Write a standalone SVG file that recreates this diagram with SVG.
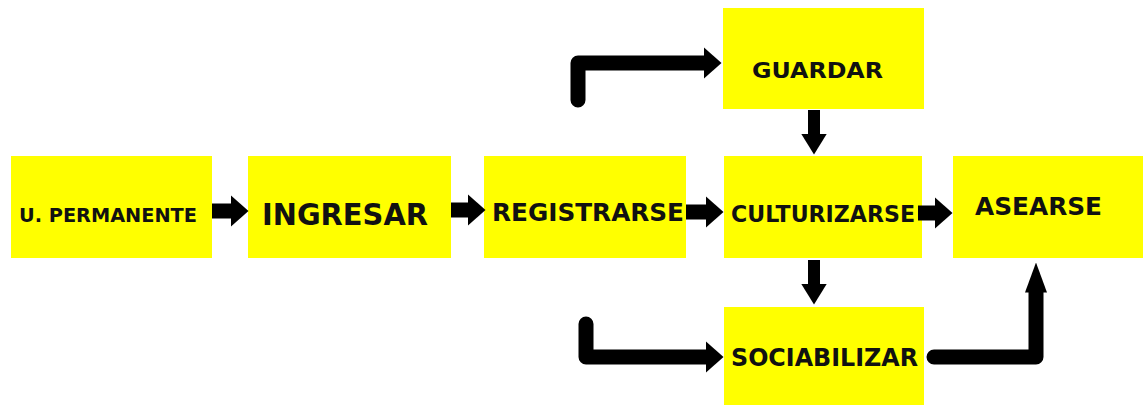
<svg xmlns="http://www.w3.org/2000/svg" width="1143" height="405" viewBox="0 0 1143 405">
  <defs>
    <style>
      .box { fill: #ffff00; }
      .lbl { font-family: "DejaVu Sans", "Liberation Sans", sans-serif; font-weight: bold; fill: #111111; }
      .con { fill: none; stroke: #000; stroke-width: 15; stroke-linejoin: round; }
      .thin { stroke-width: 12; }
    </style>
    <marker id="head" viewBox="0 0 18 32" markerUnits="userSpaceOnUse" markerWidth="18" markerHeight="32" refX="0.5" refY="16" orient="auto">
      <path d="M0,0 L18,16 L0,32 z" fill="#000"/>
    </marker>
    <marker id="headv" viewBox="0 0 21 26" markerUnits="userSpaceOnUse" markerWidth="21" markerHeight="26" refX="0.5" refY="13" orient="auto">
      <path d="M0,0 L21,13 L0,26 z" fill="#000"/>
    </marker>
    <marker id="headu" viewBox="0 0 30 22" markerUnits="userSpaceOnUse" markerWidth="30" markerHeight="22" refX="0.5" refY="11" orient="auto">
      <path d="M0,0 L30,11 L0,22 z" fill="#000"/>
    </marker>
  </defs>
  <rect width="1143" height="405" fill="#ffffff"/>

  <g id="n-permanente">
    <rect class="box" x="11" y="156" width="201" height="102"/>
    <text class="lbl" x="19" y="222" font-size="19" textLength="178" lengthAdjust="spacingAndGlyphs">U. PERMANENTE</text>
  </g>
  <g id="n-ingresar">
    <rect class="box" x="248" y="156" width="203" height="102"/>
    <text class="lbl" x="262" y="225" font-size="31" textLength="166" lengthAdjust="spacingAndGlyphs">INGRESAR</text>
  </g>
  <g id="n-registrarse">
    <rect class="box" x="484" y="156" width="202" height="102"/>
    <text class="lbl" x="492" y="221" font-size="25" textLength="192" lengthAdjust="spacingAndGlyphs">REGISTRARSE</text>
  </g>
  <g id="n-culturizarse">
    <rect class="box" x="724" y="156" width="198" height="102"/>
    <text class="lbl" x="731" y="222" font-size="23" textLength="184" lengthAdjust="spacingAndGlyphs">CULTURIZARSE</text>
  </g>
  <g id="n-asearse">
    <rect class="box" x="953" y="156" width="190" height="102"/>
    <text class="lbl" x="975" y="215" font-size="24" textLength="127" lengthAdjust="spacingAndGlyphs">ASEARSE</text>
  </g>
  <g id="n-guardar">
    <rect class="box" x="723" y="8" width="201" height="101"/>
    <text class="lbl" x="752" y="78" font-size="21" textLength="131" lengthAdjust="spacingAndGlyphs">GUARDAR</text>
  </g>
  <g id="n-sociabilizar">
    <rect class="box" x="724" y="307" width="200" height="98"/>
    <text class="lbl" x="731" y="366" font-size="24" textLength="187" lengthAdjust="spacingAndGlyphs">SOCIABILIZAR</text>
  </g>

  <g id="connectors">
    <path class="con" d="M212,211 H231" marker-end="url(#head)"/>
    <path class="con" d="M451,210 H468" marker-end="url(#head)"/>
    <path class="con" d="M686,212 H706" marker-end="url(#head)"/>
    <path class="con" d="M918,213 H935" marker-end="url(#head)"/>
    <path class="con thin" d="M814,110 V134" marker-end="url(#headv)"/>
    <path class="con thin" d="M814,260 V284" marker-end="url(#headv)"/>
    <path class="con" d="M578,100 V63 H704" stroke-linecap="round" marker-end="url(#head)"/>
    <path class="con" d="M586,324 V357 H706" stroke-linecap="round" marker-end="url(#head)"/>
    <path class="con" stroke-width="12" d="M934,357 H1036 V292" stroke-linecap="round" marker-end="url(#headu)"/>
  </g>
</svg>
